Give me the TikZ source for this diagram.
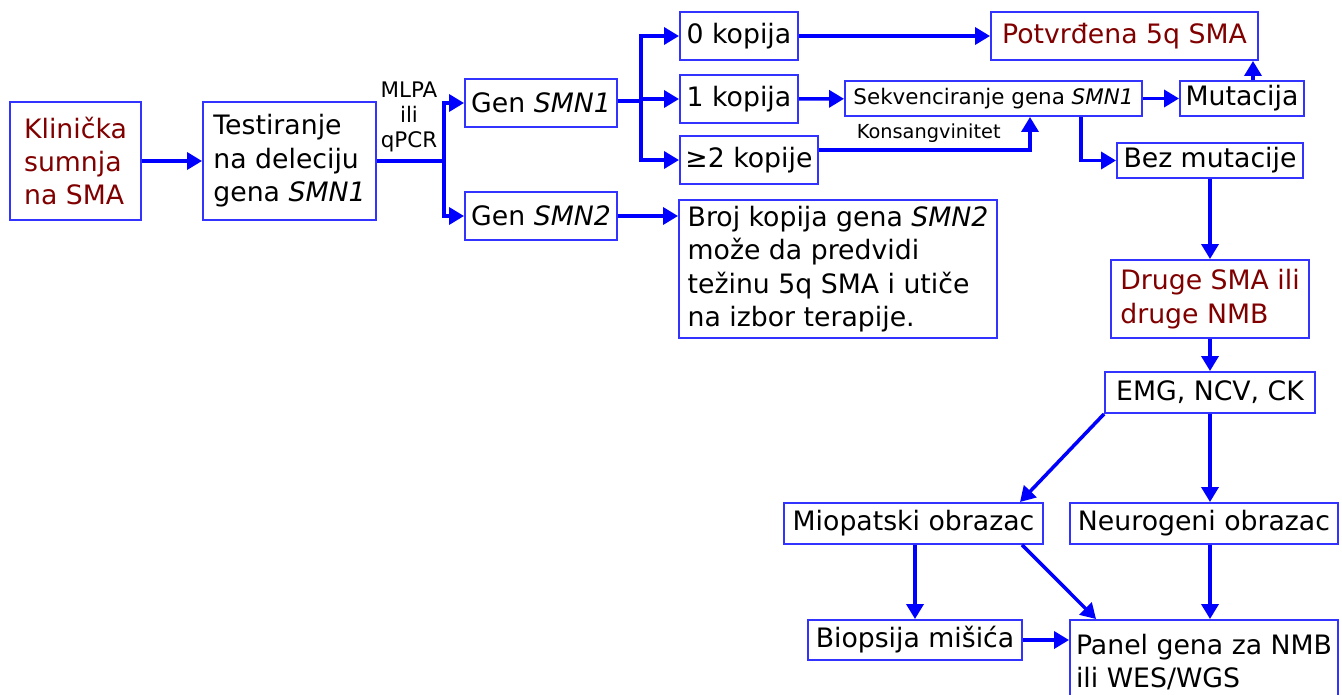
\documentclass[tikz,border=0pt]{standalone}
\usepackage{fontspec}
\setmainfont{DejaVu Sans}
\usetikzlibrary{arrows.meta}
\definecolor{boxblue}{RGB}{51,51,255}
\definecolor{darkred}{RGB}{128,0,0}
\begin{document}
\begin{tikzpicture}[font=\fontsize{15.2}{19}\selectfont,
  box/.style = {draw=boxblue, line width=1.1pt, inner sep=0pt, align=left},
  hl/.style = {text=darkred},
  ln/.style = {draw=blue, line width=2pt},
  arr/.style = {ln, -{Triangle[length=0.3cm,width=0.34cm]}},
  small/.style = {font=\fontsize{12.2}{14}\selectfont},
  tiny/.style = {font=\fontsize{11}{13}\selectfont}]
\useasboundingbox (0,0) rectangle (26.84,-13.88);
\node[box, hl, minimum width=2.62cm, minimum height=2.36cm] (klin) at (1.51,-3.22) {Klinička\\sumnja\\na SMA};
\node[box, minimum width=3.46cm, minimum height=2.36cm] (test) at (5.79,-3.22) {Testiranje\\na deleciju\\gena \textit{SMN1}};
\node[small, align=center] (mlpa) at (8.18,-2.34) {MLPA\\ili\\qPCR};
\node[box, minimum width=3.04cm, minimum height=0.96cm] (gen1) at (10.82,-2.06) {Gen \textit{SMN1}};
\node[box, minimum width=3.04cm, minimum height=0.96cm] (gen2) at (10.82,-4.32) {Gen \textit{SMN2}};
\node[box, anchor=west, minimum width=2.36cm, minimum height=0.96cm] (k0) at (13.58,-0.72) {0 kopija};
\node[box, anchor=west, minimum width=2.36cm, minimum height=0.96cm] (k1) at (13.58,-1.98) {1 kopija};
\node[box, anchor=west, minimum width=2.76cm, minimum height=0.96cm] (k2) at (13.58,-3.20) {≥2 kopije};
\node[box, hl, minimum width=5.34cm, minimum height=0.96cm] (potv) at (22.49,-0.72) {Potvrđena 5q SMA};
\node[box, small, minimum width=5.94cm, minimum height=0.70cm] (sekv) at (19.87,-1.97) {Sekvenciranje gena \textit{SMN1}};
\node[box, minimum width=2.48cm, minimum height=0.70cm] (mut) at (24.84,-1.97) {Mutacija};
\node[box, minimum width=3.72cm, minimum height=0.70cm] (bez) at (24.20,-3.21) {Bez mutacije};
\node[box, minimum width=6.36cm, minimum height=2.76cm] (broj) at (16.76,-5.38) {Broj kopija gena \textit{SMN2}\\može da predvidi\\težinu 5q SMA i utiče\\na izbor terapije.};
\node[box, hl, minimum width=3.96cm, minimum height=1.56cm] (druge) at (24.20,-5.98) {Druge SMA ili\\druge NMB};
\node[box, minimum width=4.2cm, minimum height=0.82cm] (emg) at (24.20,-7.85) {EMG, NCV, CK};
\node[box, minimum width=5.18cm, minimum height=0.82cm] (miop) at (18.27,-10.47) {Miopatski obrazac};
\node[box, minimum width=5.36cm, minimum height=0.82cm] (neur) at (24.08,-10.47) {Neurogeni obrazac};
\node[box, minimum width=4.28cm, minimum height=0.80cm] (biop) at (18.30,-12.80) {Biopsija mišića};
\node[box, minimum width=5.36cm, minimum height=1.68cm] (panel) at (24.08,-13.24) {Panel gena za NMB\\ili WES/WGS};
\coordinate (s1) at (8.88,-3.22);
\coordinate (s2) at (12.82,-2.02);
\draw[arr] (klin) -- (test);
\draw[ln] (test) -- (s1);
\draw[arr] (s1) |- (gen1);
\draw[arr] (s1) |- (gen2);
\draw[ln] (gen1.east |- s2) -- (s2);
\draw[arr] (s2) |- (k0);
\draw[arr] (s2) |- (k1);
\draw[arr] (s2) |- (k2);
\draw[arr] (gen2) -- (gen2 -| broj.west);
\draw[arr] (k0) -- (potv);
\draw[arr] (k1) -- (sekv);
\draw[arr] ([yshift=0.2cm]k2.east) -| node[tiny, above, pos=0.26] {Konsangvinitet} ([xshift=0.73cm]sekv.south);
\draw[arr] (sekv) -- (mut);
\draw[arr] ([xshift=0.22cm]mut.north) -- ([xshift=0.22cm]mut.north |- potv.south);
\draw[arr] ([xshift=1.75cm]sekv.south) |- (bez);
\draw[arr] (bez) -- (druge);
\draw[arr] (druge) -- (emg);
\draw[arr] (emg.south) -- (emg.south |- neur.north);
\draw[arr] (emg.south west) -- ([xshift=2.13cm]miop.north);
\draw[arr] (biop.north |- miop.south) -- (biop.north);
\draw[arr] ([xshift=2.17cm]miop.south) -- ([xshift=0.54cm]panel.north west);
\draw[arr] (emg.south |- neur.south) -- (emg.south |- panel.north);
\draw[arr] (biop.east) -- (biop.east -| panel.west);
\end{tikzpicture}
\end{document}
